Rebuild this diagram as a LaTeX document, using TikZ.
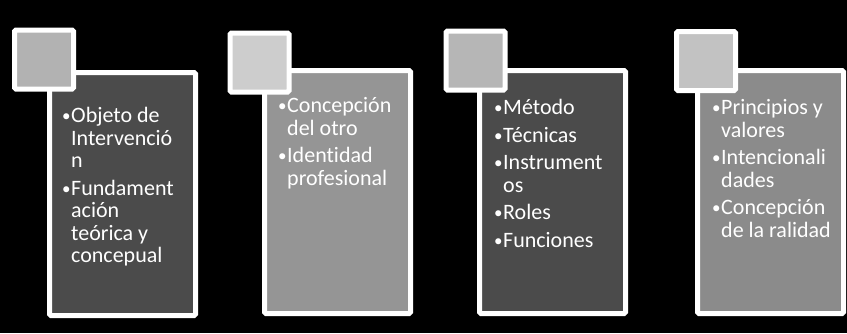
\documentclass[tikz,border=0pt]{standalone}
\usepackage{fontspec}
\setmainfont{Carlito}[Ligatures=NoCommon]
\usepackage{tikz}

\definecolor{darkpanel}{HTML}{4B4B4B}
\definecolor{midpanel}{HTML}{959595}
\definecolor{greypanel}{HTML}{8B8B8B}
\definecolor{tagA}{HTML}{B2B2B2}
\definecolor{tagB}{HTML}{CDCDCD}
\definecolor{tagC}{HTML}{B6B6B6}
\definecolor{tagD}{HTML}{C2C2C2}

\newcommand{\itm}{\makebox[9pt][l]{\raisebox{1.2pt}{\fontsize{17}{17}\selectfont •}}}
\newcommand{\cnt}{\hspace*{9pt}}

\tikzset{
panel/.style={draw=white, line width=5pt, rounded corners=1.5pt, inner sep=0pt, minimum width=146pt, minimum height=243pt},
tag/.style={draw=white, line width=5pt, rounded corners=1.5pt, inner sep=0pt, minimum size=59pt},
items/.style={anchor=north west, align=left, inner sep=0pt, text=white, font=\fontsize{22}{22.5}\selectfont}
}

\begin{document}
\begin{tikzpicture}[x=1pt, y=1pt]
\fill[black] (0,0) rectangle (847,333);
\useasboundingbox (0,0) rectangle (847,333);

\node[panel, fill=darkpanel] (b1) at (122.5,139) {};
\node[panel, fill=midpanel] (b2) at (337.5,141) {};
\node[panel, fill=darkpanel] (b3) at (552.5,141) {};
\node[panel, fill=greypanel] (b4) at (770.5,141) {};

\node[tag, fill=tagA] (s1) at (44,273.5) {};
\node[tag, fill=tagB] (s2) at (259.5,270.5) {};
\node[tag, fill=tagC] (s3) at (475.5,272.5) {};
\node[tag, fill=tagD] (s4) at (706,272) {};

\node[items] (t1) at (62,226) {\strut\itm Objeto de\\
\cnt Intervenció\\
\cnt n\\[5pt]
\itm Fundament\\
\cnt ación\\
\cnt teórica y\\
\cnt concepual};
\node[items] (t2) at (278,236) {\strut\itm Concepción\\
\cnt del otro\\[5pt]
\itm Identidad\\
\cnt profesional};
\node[items] (t3) at (494,234) {\strut\itm Método\\[5pt]
\itm Técnicas\\[5pt]
\itm Instrument\\
\cnt os\\[5pt]
\itm Roles\\[5pt]
\itm Funciones};
\node[items] (t4) at (712,234) {\strut\itm Principios y\\
\cnt valores\\[5pt]
\itm Intencionali\\
\cnt dades\\[5pt]
\itm Concepción\\
\cnt de la ralidad};
\end{tikzpicture}
\end{document}
